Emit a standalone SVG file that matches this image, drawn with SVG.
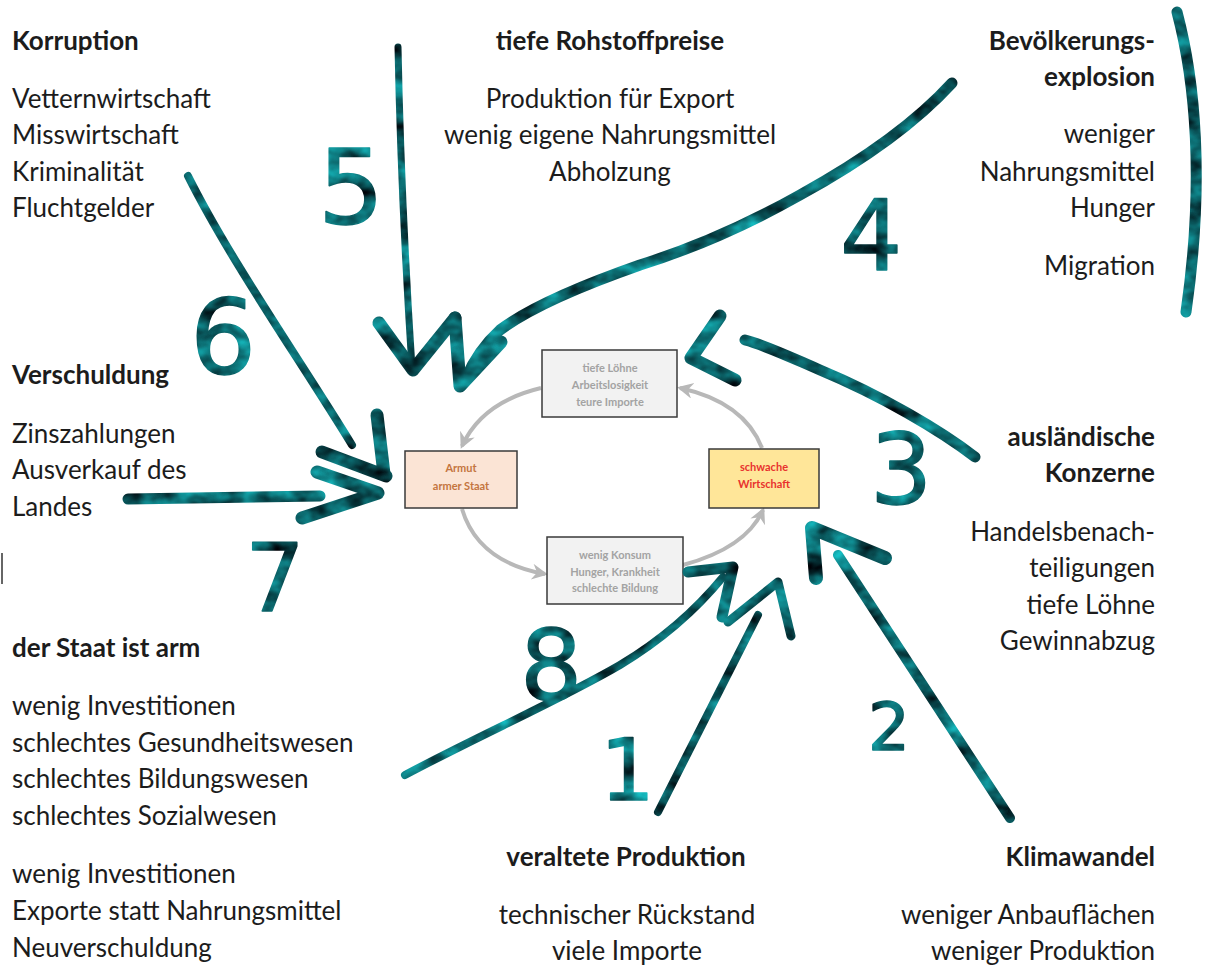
<svg xmlns="http://www.w3.org/2000/svg" width="1206" height="967" viewBox="0 0 1206 967">
<style>
.t{font-family:Lato,"Liberation Sans",sans-serif;font-size:26px;fill:#1c1c1c}
.b{font-weight:bold}
.r{text-anchor:end}
.c{text-anchor:middle}
.bx{stroke:#3a3a3a;stroke-width:1.5}
.bt{font-family:Lato,"Liberation Sans",sans-serif;font-size:11px;font-weight:bold;text-anchor:middle}
.cyc{fill:none;stroke:#b8b8b8;stroke-width:4;marker-end:url(#ah)}
.ink{fill:none;stroke:#17686c;stroke-linecap:round;stroke-linejoin:round}
.dg{font-family:"DejaVu Sans",sans-serif;fill:#17686c;stroke:#17686c;stroke-width:1.5;stroke-linejoin:round}
</style>
<defs>
<marker id="ah" markerUnits="userSpaceOnUse" markerWidth="20" markerHeight="20" refX="13" refY="8" orient="auto">
<path d="M0,0 L16,8 L0,16 L5,8 Z" fill="#b8b8b8"/>
</marker>
<filter id="marble" filterUnits="userSpaceOnUse" x="0" y="0" width="1206" height="967" color-interpolation-filters="sRGB">
<feTurbulence type="fractalNoise" baseFrequency="0.035 0.05" numOctaves="3" seed="7" result="noise"/>
<feColorMatrix in="noise" type="matrix" values="0.12 0 0 0 -0.02  1.0 0 0 0 -0.13  1.0 0 0 0 -0.11  0 0 0 0 1" result="col"/>
<feComposite in="col" in2="SourceAlpha" operator="in"/>
</filter>
</defs>
<rect width="1206" height="967" fill="#ffffff"/>

<g id="korruption">
<text class="t b" x="12" y="50">Korruption</text>
<text class="t" x="12" y="108">Vetternwirtschaft</text>
<text class="t" x="12" y="144">Misswirtschaft</text>
<text class="t" x="12" y="181">Kriminalität</text>
<text class="t" x="12" y="217">Fluchtgelder</text>
</g>
<g id="verschuldung">
<text class="t b" x="12" y="384">Verschuldung</text>
<text class="t" x="12" y="443">Zinszahlungen</text>
<text class="t" x="12" y="479">Ausverkauf des</text>
<text class="t" x="12" y="516">Landes</text>
</g>
<g id="staat">
<text class="t b" x="12" y="657">der Staat ist arm</text>
<text class="t" x="12" y="715">wenig Investitionen</text>
<text class="t" x="12" y="752">schlechtes Gesundheitswesen</text>
<text class="t" x="12" y="788">schlechtes Bildungswesen</text>
<text class="t" x="12" y="825">schlechtes Sozialwesen</text>
<text class="t" x="12" y="883">wenig Investitionen</text>
<text class="t" x="12" y="920">Exporte statt Nahrungsmittel</text>
<text class="t" x="12" y="957">Neuverschuldung</text>
</g>
<line x1="2" y1="553" x2="2" y2="584" stroke="#333" stroke-width="1.5"/>
<g id="rohstoff">
<text class="t b c" x="610" y="50">tiefe Rohstoffpreise</text>
<text class="t c" x="610" y="108">Produktion für Export</text>
<text class="t c" x="610" y="144">wenig eigene Nahrungsmittel</text>
<text class="t c" x="610" y="181">Abholzung</text>
</g>
<g id="bevoelkerung">
<text class="t b r" x="1155" y="50">Bevölkerungs-</text>
<text class="t b r" x="1155" y="86">explosion</text>
<text class="t r" x="1155" y="143">weniger</text>
<text class="t r" x="1155" y="181">Nahrungsmittel</text>
<text class="t r" x="1155" y="217">Hunger</text>
<text class="t r" x="1155" y="275">Migration</text>
</g>
<g id="konzerne">
<text class="t b r" x="1155" y="446">ausländische</text>
<text class="t b r" x="1155" y="482">Konzerne</text>
<text class="t r" x="1155" y="541">Handelsbenach-</text>
<text class="t r" x="1155" y="577">teiligungen</text>
<text class="t r" x="1155" y="614">tiefe Löhne</text>
<text class="t r" x="1155" y="650">Gewinnabzug</text>
</g>
<g id="produktion">
<text class="t b c" x="626" y="866">veraltete Produktion</text>
<text class="t c" x="627" y="924">technischer Rückstand</text>
<text class="t c" x="627" y="960">viele Importe</text>
</g>
<g id="klima">
<text class="t b r" x="1155" y="866">Klimawandel</text>
<text class="t r" x="1155" y="924">weniger Anbauflächen</text>
<text class="t r" x="1155" y="960">weniger Produktion</text>
</g>

<g id="cycle">
<path class="cyc" d="M541,388 Q482,402 462,446"/>
<path class="cyc" d="M462,509 Q478,562 545,574"/>
<path class="cyc" d="M683,565 Q746,548 763,510"/>
<path class="cyc" d="M762,448 Q744,402 680,388"/>
</g>
<g id="box-loehne">
<rect class="bx" x="542" y="350" width="135" height="67" fill="#f2f2f2"/>
<text class="bt" x="610" y="372" fill="#a3a3a3">tiefe Löhne</text>
<text class="bt" x="610" y="389" fill="#a3a3a3">Arbeitslosigkeit</text>
<text class="bt" x="610" y="406" fill="#a3a3a3">teure Importe</text>
</g>
<g id="box-armut">
<rect class="bx" x="405" y="451" width="112" height="57" fill="#fbe4d5"/>
<text class="bt" x="461" y="472" fill="#c4753f">Armut</text>
<text class="bt" x="461" y="490" fill="#c4753f">armer Staat</text>
</g>
<g id="box-wirtschaft">
<rect class="bx" x="709" y="449" width="110" height="59" fill="#ffe699"/>
<text class="bt" x="764" y="471" fill="#e8322e">schwache</text>
<text class="bt" x="764" y="488" fill="#e8322e">Wirtschaft</text>
</g>
<g id="box-konsum">
<rect class="bx" x="547" y="537" width="136" height="67" fill="#f2f2f2"/>
<text class="bt" x="615" y="559" fill="#a3a3a3">wenig Konsum</text>
<text class="bt" x="615" y="576" fill="#a3a3a3">Hunger, Krankheit</text>
<text class="bt" x="615" y="592" fill="#a3a3a3">schlechte Bildung</text>
</g>

<g id="connectors" filter="url(#marble)">
<path class="ink" stroke-width="7" d="M398,47 C400,150 405,260 412,368"/>
<path class="ink" stroke-width="13" d="M379,323 L413,370 L455,318"/>
<path class="ink" stroke-width="11" d="M952,83 Q900,140 800,195 Q720,240 640,265 Q540,300 500,330 Q478,350 466,378"/>
<path class="ink" stroke-width="13" d="M455,318 L460,386 L501,342"/>
<path class="ink" stroke-width="8" d="M188,176 C230,260 300,360 352,445"/>
<path class="ink" stroke-width="13" d="M377,415 L384,474 M322,452 L386,476"/>
<path class="ink" stroke-width="11" d="M128,499 L320,496"/>
<path class="ink" stroke-width="13" d="M317,472 L378,493 L302,518"/>
<path class="ink" stroke-width="11" d="M975,457 C940,430 880,395 820,370 C790,357 765,345 745,340"/>
<path class="ink" stroke-width="13" d="M720,316 L691,358 L735,380"/>
<path class="ink" stroke-width="10" d="M1010,818 L838,555"/>
<path class="ink" stroke-width="14" d="M885,558 L812,528 L816,578"/>
<path class="ink" stroke-width="8" d="M658,812 L758,615"/>
<path class="ink" stroke-width="9" d="M728,622 L778,582 L791,636"/>
<path class="ink" stroke-width="8" d="M405,775 C480,735 560,700 620,665 C670,635 700,605 723,577"/>
<path class="ink" stroke-width="11" d="M688,572 L733,567 L722,617"/>
<path class="ink" stroke-width="11" d="M1177,12 C1195,80 1205,180 1186,312"/>
<text class="dg" x="318" y="224" font-size="104">5</text>
<text class="dg" x="840" y="270" font-size="98">4</text>
<text class="dg" x="190" y="374" font-size="104">6</text>
<text class="dg" x="870" y="504" font-size="98">3</text>
<text class="dg" x="245" y="611" font-size="94">7</text>
<text class="dg" x="868" y="750" font-size="66">2</text>
<text class="dg" x="600" y="800" font-size="86">1</text>
<text class="dg" x="520" y="700" font-size="98">8</text>
</g>
</svg>
